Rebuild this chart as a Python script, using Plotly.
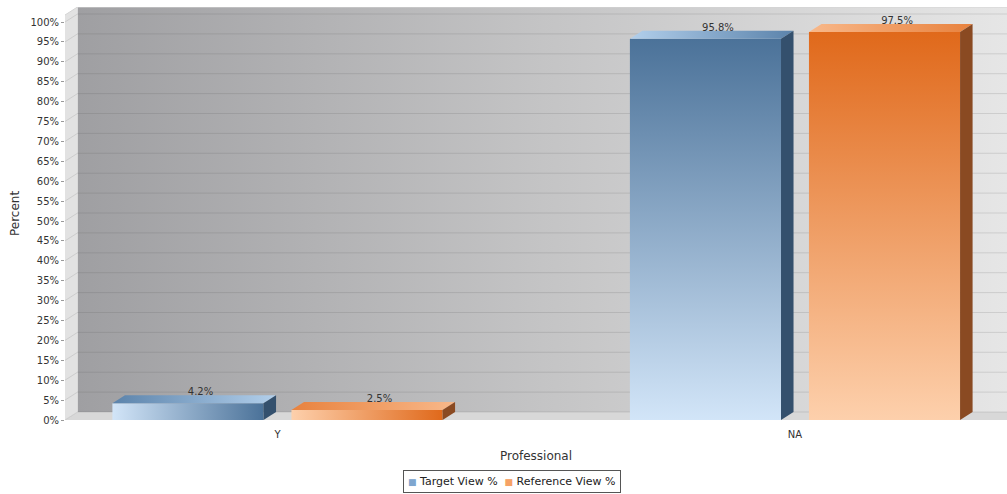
import plotly.graph_objects as go

# ---- data -------------------------------------------------------------
categories = ["Y", "NA"]
target_view = [4.2, 95.8]
reference_view = [2.5, 97.5]
series_names = ["Target View %", "Reference View %"]
y_ticks = list(range(0, 101, 5))
y_tick_labels = [f"{v}%" for v in y_ticks]

# ---- styling ----------------------------------------------------------
FONT = "DejaVu Sans"
X_RANGE = [-0.4106, 1.4097]
Y_RANGE = [0, 103.77]
DEPTH_X = 0.0242          # 3-D depth offset, x units
DEPTH_Y = 2.01            # 3-D depth offset, percent units
BAR_W = 0.292
BAR_GAP = 0.054
LABEL_DROP = 0.6          # pulls value labels closer to the bar tops

palette = {
    "Target View %": dict(light="#d2e5f8", dark="#4b7299", top_a="#5b83ab",
                          top_b="#b2cfeb", side="#34506d", legend="#7fa6cf"),
    "Reference View %": dict(light="#fdd0ac", dark="#e0691b", top_a="#e8823e",
                             top_b="#f8b88a", side="#8a4a22", legend="#f6a266"),
}

fig = go.Figure()


def poly(xs, ys, **kw):
    """Closed filled polygon in data coordinates."""
    fig.add_trace(go.Scatter(
        x=list(xs) + [xs[0]], y=list(ys) + [ys[0]], mode="lines",
        fill="toself", line=dict(width=0), hoverinfo="skip",
        showlegend=False, **kw))


xl, xe = X_RANGE
ytop = Y_RANGE[1]

# back wall
poly([xl + DEPTH_X, xe, xe, xl + DEPTH_X], [DEPTH_Y, DEPTH_Y, ytop, ytop],
     fillgradient=dict(type="horizontal",
                       colorscale=[[0, "#9f9fa2"], [0.5, "#c4c4c5"], [1, "#e6e6e6"]]))
# left wall
poly([xl, xl, xl + DEPTH_X, xl + DEPTH_X], [0, ytop - DEPTH_Y, ytop, DEPTH_Y],
     fillcolor="#e2e2e2")
# floor
poly([xl, xl + DEPTH_X, xe, xe], [0, DEPTH_Y, DEPTH_Y, 0], fillcolor="#d8d8d8")

# grid lines on the back wall and the left wall
gx, gy, lx, ly = [], [], [], []
for v in y_ticks:
    gx += [xl + DEPTH_X, xe, None]
    gy += [v + DEPTH_Y, v + DEPTH_Y, None]
    lx += [xl, xl + DEPTH_X, None]
    ly += [v, v + DEPTH_Y, None]
fig.add_trace(go.Scatter(x=gx, y=gy, mode="lines", hoverinfo="skip", showlegend=False,
                         line=dict(color="rgba(80,80,80,0.16)", width=1)))
fig.add_trace(go.Scatter(x=lx, y=ly, mode="lines", hoverinfo="skip", showlegend=False,
                         line=dict(color="rgba(120,120,120,0.2)", width=1)))
fig.add_trace(go.Scatter(x=[xl, xl + DEPTH_X, xe], y=[ytop - DEPTH_Y, ytop, ytop],
                         mode="lines", hoverinfo="skip", showlegend=False,
                         line=dict(color="#d4d4d4", width=1)))

# ---- 3-D bars ----------------------------------------------------------
label_x, label_y, label_t = [], [], []
for s_idx, (name, values) in enumerate(zip(series_names, [target_view, reference_view])):
    c = palette[name]
    for ci, v in enumerate(values):
        if s_idx == 0:
            x1 = ci - BAR_GAP / 2
            x0 = x1 - BAR_W
        else:
            x0 = ci + BAR_GAP / 2
            x1 = x0 + BAR_W
        orient = "vertical" if v > 50 else "horizontal"
        # front face
        poly([x0, x1, x1, x0], [0, 0, v, v],
             fillgradient=dict(type=orient,
                               colorscale=[[0, c["light"]], [1, c["dark"]]]))
        # top face
        top_scale = ([[0, c["top_b"]], [1, c["top_a"]]] if v > 50
                     else [[0, c["top_a"]], [1, c["top_b"]]])
        poly([x0, x0 + DEPTH_X, x1 + DEPTH_X, x1], [v, v + DEPTH_Y, v + DEPTH_Y, v],
             fillgradient=dict(type="horizontal", colorscale=top_scale))
        # side face
        poly([x1, x1 + DEPTH_X, x1 + DEPTH_X, x1], [0, DEPTH_Y, v + DEPTH_Y, v],
             fillcolor=c["side"])
        label_x.append((x0 + x1) / 2 + DEPTH_X)
        label_y.append(v + DEPTH_Y - LABEL_DROP)
        label_t.append(f"{v}%")

fig.add_trace(go.Scatter(x=label_x, y=label_y, text=label_t, mode="text",
                         textposition="top center", hoverinfo="skip", showlegend=False,
                         textfont=dict(family=FONT, size=10, color="#333333")))

# compact boxed legend under the axis title
legend_text = "  ".join(
    f"<span style='color:{palette[n]['legend']};font-size:9px'>■</span> {n}"
    for n in series_names)

fig.update_layout(
    width=1007, height=494,
    margin=dict(l=65, r=0, t=7, b=74, autoexpand=False),
    paper_bgcolor="white", plot_bgcolor="white",
    font=dict(family=FONT, size=10, color="#444444"),
    xaxis=dict(range=X_RANGE, tickvals=[0, 1], ticktext=categories,
               showgrid=False, zeroline=False, showline=False,
               ticks="outside", ticklen=5, tickcolor="rgba(0,0,0,0)",
               tickfont=dict(size=10, color="#333333"),
               title=dict(text="Professional", standoff=12,
                          font=dict(size=12, color="#333333"))),
    yaxis=dict(range=Y_RANGE, tickvals=y_ticks, ticktext=y_tick_labels,
               showgrid=False, zeroline=False, showline=False,
               ticks="outside", ticklen=3, tickcolor="#999999",
               tickfont=dict(size=10, color="#333333"),
               title=dict(text="Percent", standoff=8,
                          font=dict(size=12, color="#333333"))),
    showlegend=False,
    annotations=[dict(
        text=legend_text, xref="paper", yref="paper", x=0.4745, y=-0.1477,
        xanchor="center", yanchor="middle", showarrow=False,
        bordercolor="#555555", borderwidth=1, borderpad=4, bgcolor="white",
        font=dict(family=FONT, size=11, color="#222222"))],
)

fig.write_html("out.html")
